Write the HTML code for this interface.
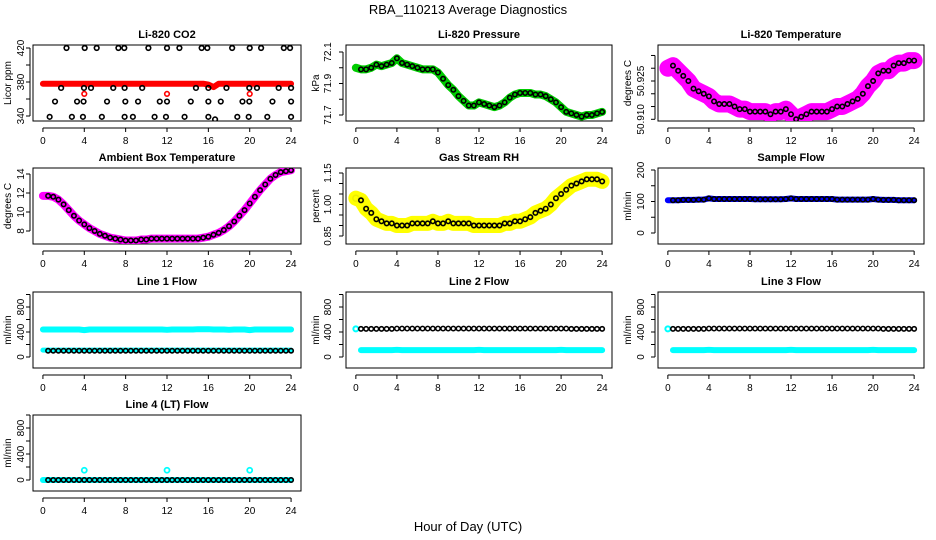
<!DOCTYPE html>
<html><head><meta charset="utf-8"><style>
html,body{margin:0;padding:0;background:#fff}
svg{display:block;font-family:"Liberation Sans",sans-serif}
</style></head><body>
<svg id="fig" width="936" height="540" viewBox="0 0 936 540">
<rect width="936" height="540" fill="#fff"/>
<text x="468" y="14" text-anchor="middle" font-size="13">RBA_110213  Average Diagnostics</text>
<text x="468" y="531" text-anchor="middle" font-size="13">Hour of Day (UTC)</text>
</svg>
<script>
// ---- data ----
const hours = [0,0.5,1,1.5,2,2.5,3,3.5,4,4.5,5,5.5,6,6.5,7,7.5,8,8.5,9,9.5,10,10.5,11,11.5,12,12.5,13,13.5,14,14.5,15,15.5,16,16.5,17,17.5,18,18.5,19,19.5,20,20.5,21,21.5,22,22.5,23,23.5,24];
const co2Red = [378,378,378,378,378,378,378,378,378,378,378,378,378,378,378,378,378,378,378,378,378,378,378,378,378,378,378,378,378,378,378,378,377,374,378,378,378,378,378,378,378,378,378,378,378,378,378,378,378];
const co2BlackHours = [2.28,4.04,5.2,7.3,7.87,10.2,12.0,13.2,15.35,15.9,18.3,20.0,21.1,23.3,23.9, 1.76,3.97,4.65,6.8,7.9,9.6,14.8,16.0,17.75,19.96,20.7,22.8,24.0, 1.17,3.3,3.93,6.2,7.97,9.2,11.3,12.0,14.3,16.0,17.2,19.3,19.96,22.2,24.0, 0.65,2.8,3.87,5.7,7.9,8.7,10.8,11.9,13.7,16.0,18.8,19.9,21.7,24.0,16.65];
const co2BlackVals = [420,420,420,420,420,420,420,420,420,420,420,420,420,420,420, 373,373,373,373,373,373,373,373,373,373,373,373,373, 357,357,357,357,357,357,357,357,357,357,357,357,357,357,357, 339,339,339,339,339,339,339,339,339,339,339,339,339,339,336];
const co2OutHours = [4,12,20];
const co2OutVals = [366,366,366];
const pressure = [72.00,71.99,71.99,72.00,72.02,72.01,72.02,72.03,72.06,72.03,72.02,72.01,72.00,71.99,71.99,71.99,71.97,71.93,71.89,71.86,71.82,71.79,71.76,71.76,71.78,71.77,71.76,71.75,71.76,71.78,71.81,71.83,71.84,71.84,71.84,71.83,71.83,71.82,71.80,71.78,71.75,71.72,71.71,71.70,71.69,71.70,71.70,71.71,71.72];
const liTemp = [50.930,50.931,50.929,50.927,50.925,50.922,50.921,50.920,50.919,50.917,50.916,50.916,50.916,50.915,50.914,50.914,50.913,50.913,50.913,50.913,50.912,50.913,50.913,50.914,50.912,50.910,50.911,50.912,50.913,50.913,50.913,50.913,50.914,50.915,50.915,50.916,50.917,50.918,50.920,50.923,50.925,50.928,50.929,50.929,50.931,50.932,50.932,50.933,50.933];
const ambient = [11.7,11.7,11.6,11.3,10.8,10.2,9.6,9.1,8.7,8.3,8.0,7.7,7.5,7.3,7.2,7.1,7.0,7.0,7.0,7.1,7.1,7.2,7.2,7.2,7.2,7.2,7.2,7.2,7.2,7.2,7.2,7.3,7.4,7.6,7.8,8.1,8.5,9.0,9.6,10.2,10.9,11.6,12.3,12.9,13.5,13.9,14.2,14.3,14.4];
const rh = [1.03,1.02,0.98,0.96,0.93,0.92,0.91,0.91,0.90,0.90,0.90,0.91,0.91,0.91,0.91,0.92,0.91,0.91,0.92,0.91,0.91,0.91,0.91,0.90,0.90,0.90,0.90,0.90,0.90,0.91,0.91,0.92,0.92,0.93,0.94,0.96,0.97,0.98,1.00,1.03,1.05,1.07,1.09,1.10,1.11,1.12,1.12,1.12,1.11];
const sampleFlow = [104,104,104,105,105,105,106,106,110,108,108,108,108,108,108,108,108,107,107,107,107,107,107,108,110,108,108,108,108,108,108,108,108,106,106,106,106,106,106,106,108,106,105,105,105,104,104,104,104];
const line1High = [440,440,440,440,440,440,440,440,430,440,440,440,440,440,440,440,440,440,440,440,440,440,440,440,435,440,440,440,440,440,445,445,445,440,440,440,435,440,440,440,430,440,440,440,440,440,440,440,440];
const line1Low = [110,110,110,110,110,110,110,110,110,110,110,110,110,110,110,110,110,110,110,110,110,110,110,110,110,110,110,110,110,110,110,110,110,110,110,110,110,110,110,110,110,110,110,110,110,110,110,110,110];
const line1Black = [100,100,100,100,100,100,100,100,100,100,100,100,100,100,100,100,100,100,100,100,100,100,100,100,100,100,100,100,100,100,100,100,100,100,100,100,100,100,100,100,100,100,100,100,100,100,100,100,100];
const line2Black = [450,450,450,450,450,450,450,450,455,455,455,455,455,455,455,455,455,455,455,455,455,455,455,455,455,455,455,455,455,455,455,455,455,455,455,455,455,455,455,455,455,455,450,450,450,450,450,450,450];
const line2Cyan = [450,110,110,110,110,110,110,110,115,110,110,110,110,110,110,110,110,110,110,110,110,110,110,110,115,110,110,110,110,110,110,110,110,110,110,110,110,110,110,110,115,110,110,110,110,110,110,110,110];
const line4Black = [0,0,0,0,0,0,0,0,0,0,0,0,0,0,0,0,0,0,0,0,0,0,0,0,0,0,0,0,0,0,0,0,0,0,0,0,0,0,0,0,0,0,0,0,0,0,0,0,0];
const line4OutHours = [4,12,20];
const line4OutVals = [150,150,150];
const xTicks = [0,4,8,12,16,20,24];

const NS = "http://www.w3.org/2000/svg";
const svg = document.getElementById('fig');
function mk(tag, attrs, parent){const e=document.createElementNS(NS,tag);for(const k in attrs)e.setAttribute(k,attrs[k]);(parent||svg).appendChild(e);return e;}

const cols=[[33,301,-9,-22],[346,612,-15,-27],[658,924,-14,-27]];
const rows=[[45,121],[168,244],[292,368],[415,491]];
const titles=[["Li-820 CO2","Li-820 Pressure","Li-820 Temperature"],["Ambient Box Temperature","Gas Stream RH","Sample Flow"],["Line 1 Flow","Line 2 Flow","Line 3 Flow"],["Line 4 (LT) Flow"]];

function panel(r,c,name,ylab,cal,ticks,labels){
  const [L,R,lo,to]=cols[c],[T,B]=rows[r];
  const g=mk('g',{});
  
  
  const xs=h=>L+(h+0.96)/25.92*(R-L);
  const ys=v=>cal[1]+(v-cal[0])*(cal[3]-cal[1])/(cal[2]-cal[0]);
  const box=mk('rect',{x:L,y:T,width:R-L,height:B-T,fill:'none',stroke:'#000','stroke-width':1},g);
  
  
  const tt=mk('text',{x:(L+R)/2,y:T-7,'text-anchor':'middle','font-size':11,'font-weight':'bold'},g);
  tt.textContent=titles[r][c];
  
  
  mk('line',{x1:xs(0),x2:xs(24),y1:B+7,y2:B+7,stroke:'#000'},g);
  xTicks.forEach(t=>{
    mk('line',{x1:xs(t),x2:xs(t),y1:B+7,y2:B+11,stroke:'#000'},g);
    const tx=mk('text',{x:xs(t),y:B+23,'text-anchor':'middle','font-size':10},g);
    tx.textContent=t;
    
    
  });
  mk('line',{x1:L-3,x2:L-3,y1:ys(ticks[0]),y2:ys(ticks[ticks.length-1]),stroke:'#000'},g);
  ticks.forEach(t=>{
    mk('line',{x1:L-7,x2:L-3,y1:ys(t),y2:ys(t),stroke:'#000'},g);
    if(labels.includes(t)){
      const y=ys(t),x=L+lo;
      const tx=mk('text',{x:x,y:y,'text-anchor':'middle','font-size':10,transform:`rotate(-90 ${x} ${y})`},g);
      tx.textContent=(typeof t==='number' && cal.fmt)?t.toFixed(cal.fmt):t;
      
      
    }
  });
  const yx=L+to,yy=(T+B)/2;
  const yt=mk('text',{x:yx,y:yy,'text-anchor':'middle','font-size':10,transform:`rotate(-90 ${yx} ${yy})`},g);
  yt.textContent=ylab;
  
  
  const clip='clip'+r+c;
  const cp=mk('clipPath',{id:clip},g);mk('rect',{x:L,y:T,width:R-L,height:B-T},cp);
  const pg=mk('g',{'clip-path':`url(#${clip})`},g);
  return {xs,ys,g:pg};
}
function band(p,hs,vs,color,w){
  const pts=hs.map((h,i)=>p.xs(h)+','+p.ys(vs[i])).join(' ');
  const pl=mk('polyline',{points:pts,fill:'none',stroke:color,'stroke-width':w,'stroke-linejoin':'round','stroke-linecap':'round'},p.g);
  
  
}
function pts(p,hs,vs,color,r,sw,skip0){
  hs.forEach((h,i)=>{
    if(skip0&&i===0)return;
    const c=mk('circle',{cx:p.xs(h),cy:p.ys(vs[i]),r:r,fill:'none',stroke:color,'stroke-width':sw},p.g);
    
    
  });
}
const K='#000';
let p=panel(0,0,'co2-panel','Licor ppm',[420,48,340,116],[340,360,380,400,420],[340,380,420]);
band(p,hours,co2Red,'#f00',6);pts(p,co2OutHours,co2OutVals,'#f00',2.3,1.6);
pts(p,co2BlackHours,co2BlackVals,K,2.3,1.6);
p=panel(0,1,'pressure-panel','kPa',[72.1,52,71.7,115],[71.7,71.8,71.9,72.0,72.1],[71.7,71.9,72.1]);
band(p,hours,pressure,'#0c0',8);pts(p,hours,pressure,'#0c0',2.5,1.5);pts(p,hours,pressure,K,2.2,1.6,true);
const tc=[50.910,119.3,50.925,81];tc.fmt=3;
p=panel(0,2,'li820-temperature-panel','degrees C',tc,[50.910,50.915,50.920,50.925,50.930,50.935],[50.910,50.925]);
band(p,hours,liTemp,'#f0f',17);pts(p,hours,liTemp,'#f0f',3,1.5);pts(p,hours,liTemp,K,2.2,1.6,true);
p=panel(1,0,'ambient-temperature-panel','degrees C',[14,174,8,231],[8,10,12,14],[8,10,12,14]);
band(p,hours,ambient,'#f0f',8);pts(p,hours,ambient,K,2.2,1.6,true);
const rc=[1.15,173,0.85,236];rc.fmt=2;
p=panel(1,1,'gas-stream-rh-panel','percent',rc,[0.85,0.90,0.95,1.00,1.05,1.10,1.15],[0.85,1.00,1.15]);
band(p,hours,rh,'#ff0',15);pts(p,hours,rh,'#ee0',3,1.5);pts(p,hours,rh,K,2.2,1.6,true);
p=panel(1,2,'sample-flow-panel','ml/min',[200,170,0,233],[0,50,100,150,200],[0,100,200]);
band(p,hours,sampleFlow,'#00f',6);pts(p,hours,sampleFlow,K,2.2,1.6,true);
const fticks=[0,200,400,600,800,1000],flabs=[0,400,800];
p=panel(2,0,'line1-flow-panel','ml/min',[800,307,0,357],fticks,flabs);
band(p,hours,line1High,'#0ff',6);band(p,hours,line1Low,'#0ff',5);pts(p,hours,line1Black,K,2.2,1.6,true);
p=panel(2,1,'line2-flow-panel','ml/min',[800,307,0,357],fticks,flabs);
band(p,hours.slice(1),line2Cyan.slice(1),'#0ff',6);pts(p,hours.slice(0,1),line2Cyan.slice(0,1),'#0ff',2.5,2);pts(p,hours,line2Black,K,2.2,1.6,true);
p=panel(2,2,'line3-flow-panel','ml/min',[800,307,0,357],fticks,flabs);
band(p,hours.slice(1),line2Cyan.slice(1),'#0ff',6);pts(p,hours.slice(0,1),line2Cyan.slice(0,1),'#0ff',2.5,2);pts(p,hours,line2Black,K,2.2,1.6,true);
p=panel(3,0,'line4-flow-panel','ml/min',[800,428,0,480],fticks,flabs);
band(p,hours,line4Black,'#0ff',6);pts(p,line4OutHours,line4OutVals,'#0ff',2.5,1.8);pts(p,hours,line4Black,K,2.2,1.6,true);
</script>
</body></html>
